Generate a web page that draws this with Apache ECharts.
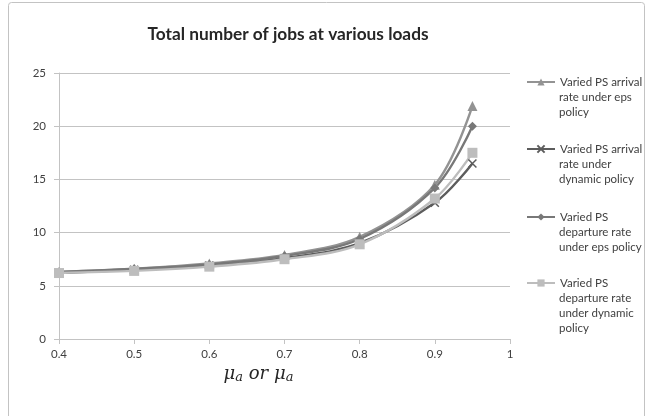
<!DOCTYPE html>
<html>
<head>
<meta charset="utf-8">
<script src="https://cdn.jsdelivr.net/npm/echarts@6/dist/echarts.min.js"></script>
<style>
  html, body { margin: 0; padding: 0; background: #fff; }
  #chart { width: 647px; height: 416px; }
</style>
</head>
<body>
<div id="chart"></div>
<script>
// loads on the x axis
var loads = [0.4, 0.5, 0.6, 0.7, 0.8, 0.9, 0.95];
var arrivalEps = [6.3, 6.6, 7.1, 7.9, 9.6, 14.5, 21.9];
var arrivalDyn = [6.2, 6.5, 6.9, 7.6, 9.0, 12.8, 16.5];
var departEps = [6.3, 6.6, 7.0, 7.8, 9.4, 14.2, 20.0];
var departDyn = [6.2, 6.4, 6.8, 7.5, 8.9, 13.2, 17.5];
var seriesNames = [
  'Varied PS arrival rate under eps policy',
  'Varied PS arrival rate under dynamic policy',
  'Varied PS departure rate under eps policy',
  'Varied PS departure rate under dynamic policy'
];
var legendLines = [
  ['Varied PS arrival', 'rate under eps', 'policy'],
  ['Varied PS arrival', 'rate under', 'dynamic policy'],
  ['Varied PS', 'departure rate', 'under eps policy'],
  ['Varied PS', 'departure rate', 'under dynamic', 'policy']
];
var legendFirstLineY = [82, 149, 217, 283];

var FONT = 'Lato';
var LH = 15;
var TEXT_X = 559;
var lineStyle = { color: '#c3c3c3', width: 1 };
var labelColor = '#404040';

function pairs(ys) {
  return loads.map(function (x, i) { return [x, ys[i]]; });
}

function mkSeries(name, ys, color, symbol, size) {
  return {
    name: name,
    type: 'line',
    smooth: 0.35,
    data: pairs(ys),
    symbol: symbol,
    symbolSize: size,
    lineStyle: { color: color, width: 2.4 },
    itemStyle: { color: color },
    z: 3
  };
}

// one legend per item, showing only the first text line beside the marker
var legends = seriesNames.map(function (name, i) {
  return {
    left: TEXT_X - 33,
    top: legendFirstLineY[i] - LH / 2,
    padding: 0,
    itemWidth: 28,
    itemHeight: 9,
    data: [name],
    formatter: function () { return legendLines[i][0]; },
    textStyle: { color: labelColor, fontSize: 11.5, lineHeight: LH, fontFamily: FONT }
  };
});

// the remaining wrapped lines of each legend entry
var legendRest = [];
legendLines.forEach(function (lines, i) {
  lines.slice(1).forEach(function (t, k) {
    legendRest.push({
      type: 'text',
      left: TEXT_X,
      top: legendFirstLineY[i] + LH * (k + 1) - LH / 2,
      silent: true,
      style: { text: t, fill: labelColor, font: '11.5px ' + FONT, lineHeight: LH }
    });
  });
});

var chart = echarts.init(document.getElementById('chart'), null, { renderer: 'canvas' });
var option = {
  animation: false,
  backgroundColor: '#fff',
  title: {
    text: 'Total number of jobs at various loads',
    left: 283,
    top: 21,
    textAlign: 'center',
    textStyle: { fontSize: 17.3, fontWeight: 'bold', color: '#262626', fontFamily: FONT }
  },
  graphic: [{
    type: 'rect',
    shape: { x: 8.5, y: 2.5, width: 636, height: 430, r: 3 },
    style: { fill: null, stroke: '#c3c3c3', lineWidth: 1 },
    silent: true
  }].concat(legendRest),
  grid: { left: 59, right: 137, top: 73, bottom: 77 },
  legend: legends,
  xAxis: {
    type: 'value',
    min: 0.4,
    max: 1,
    interval: 0.1,
    name: '{m|μ}{s|a}{o| or }{m|μ}{s|a}',
    nameLocation: 'middle',
    nameGap: 21,
    nameTextStyle: {
      padding: [0, 52, 0, 0],
      rich: {
        m: { fontSize: 18, fontStyle: 'italic', fontFamily: 'DejaVu Serif', color: '#262626' },
        s: { fontSize: 13, fontStyle: 'italic', fontFamily: 'DejaVu Serif', color: '#262626', padding: [8, 0, 0, 0] },
        o: { fontSize: 18, fontStyle: 'italic', fontFamily: 'DejaVu Serif', color: '#262626' }
      }
    },
    splitLine: { show: false },
    axisLine: { lineStyle: lineStyle },
    axisTick: { show: true, length: 5, lineStyle: lineStyle },
    axisLabel: {
      color: labelColor, fontSize: 11.5, fontFamily: FONT, margin: 9,
      formatter: function (v) { return String(Math.round(v * 10) / 10); }
    }
  },
  yAxis: {
    type: 'value',
    min: 0,
    max: 25,
    interval: 5,
    splitLine: { lineStyle: lineStyle },
    axisLine: { show: true, lineStyle: lineStyle },
    axisTick: { show: true, length: 5, lineStyle: lineStyle },
    axisLabel: { color: labelColor, fontSize: 11.5, fontFamily: FONT, margin: 13 }
  },
  series: [
    mkSeries(seriesNames[0], arrivalEps, '#939393', 'triangle', 10),
    mkSeries(seriesNames[1], arrivalDyn, '#5c5c5c', 'path://M0,0L10,10M10,0L0,10', 8),
    mkSeries(seriesNames[2], departEps, '#787878', 'diamond', 9),
    mkSeries(seriesNames[3], departDyn, '#bdbdbd', 'rect', 10)
  ]
};
// x marker is stroked, not filled
option.series[1].itemStyle = { color: '#5c5c5c', borderColor: '#5c5c5c', borderWidth: 1.5 };
chart.setOption(option);
</script>
</body>
</html>
